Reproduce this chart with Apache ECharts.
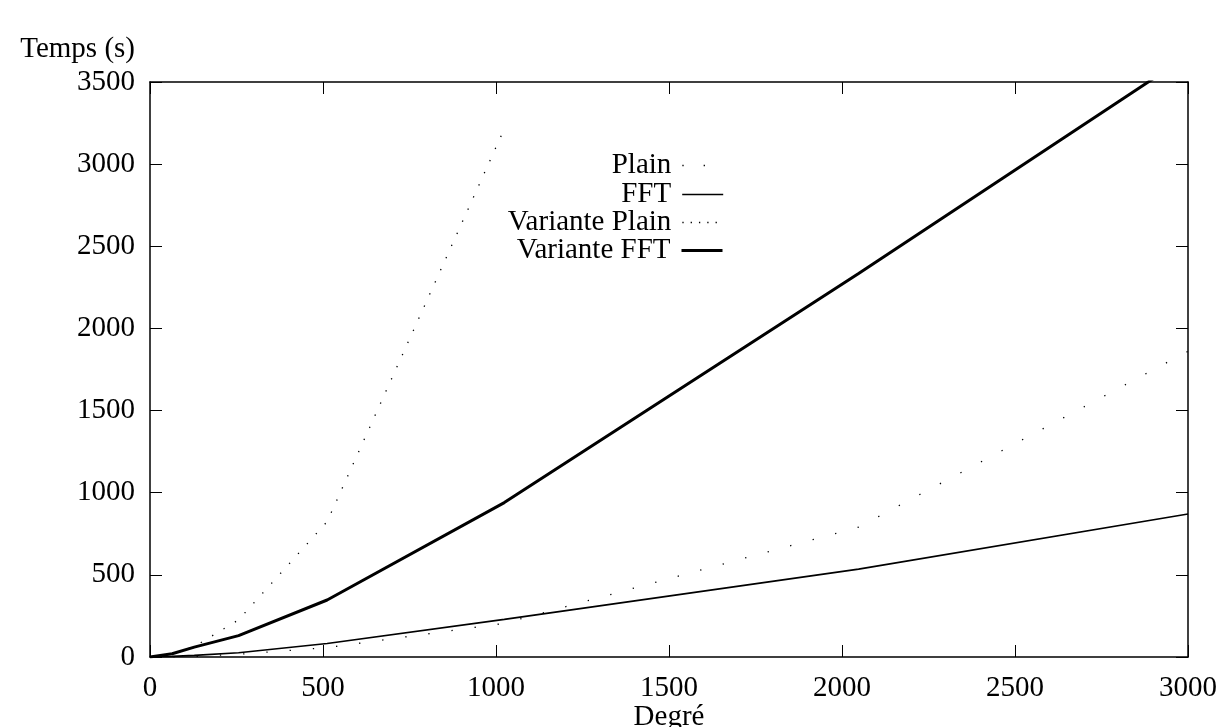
<!DOCTYPE html>
<html>
<head>
<meta charset="utf-8">
<script src="https://cdn.jsdelivr.net/npm/echarts@6/dist/echarts.min.js"></script>
<style>
html,body{margin:0;padding:0;background:#fff;}
#chart{width:1225px;height:727px;}
</style>
</head>
<body>
<div id="chart"></div>
<script>
// Degrees (x) and times in seconds (y)
const degres = [0, 64, 128, 256, 512, 1024, 2048, 3000];
const plainTemps = [0, 1, 3, 17, 57, 205, 790, 1861];
const fftTemps = [0, 4, 10, 26, 82, 229, 535, 870];
const variantePlainTemps = [0, 20, 63, 226, 824, 3215];
const varianteFftTemps = [0, 20, 60, 130, 347, 940, 2335, 3660];

const xTicks = [0, 500, 1000, 1500, 2000, 2500, 3000];
const yTicks = [0, 500, 1000, 1500, 2000, 2500, 3000, 3500];

const seriesNames = ['Plain', 'FFT', 'Variante Plain', 'Variante FFT'];

function pairs(xs, ys) {
  return ys.map((y, i) => [xs[i], y]);
}

const FONT = '"Liberation Serif", "DejaVu Serif", serif';
const FS = 29;
const chart = echarts.init(document.getElementById('chart'), null, {renderer: 'canvas'});

const tickStyle = {inside: true, length: 12, lineStyle: {color: '#000', width: 1}};
const lineAx = {show: true, onZero: false, lineStyle: {color: '#000', width: 1.5}};
const plainNum = v => String(v);

function legendAt(name, top, ls) {
  return {
    data: [name],
    right: 501,
    top: top,
    orient: 'vertical',
    align: 'right',
    itemWidth: 41,
    itemHeight: 14,
    itemGap: 0,
    padding: 0,
    selectedMode: false,
    itemStyle: {opacity: 0},
    lineStyle: ls,
    textStyle: {fontFamily: FONT, fontSize: FS, color: '#000', padding: [0, 6, 0, 0]}
  };
}

const option = {
  animation: false,
  backgroundColor: '#fff',
  grid: {left: 150, right: 37, top: 82, bottom: 70, containLabel: false, outerBoundsMode: 'none'},
  legend: [
    legendAt(seriesNames[0], 151, {color: '#000', width: 1.3, type: [1.3, 20]}),
    legendAt(seriesNames[1], 180, {color: '#000', width: 1.6, type: 'solid'}),
    legendAt(seriesNames[2], 208, {color: '#000', width: 1.3, type: [1.3, 7]}),
    legendAt(seriesNames[3], 236, {color: '#000', width: 3, type: 'solid'})
  ],
  xAxis: [{
    type: 'value', min: xTicks[0], max: xTicks[xTicks.length - 1], interval: xTicks[1] - xTicks[0],
    position: 'bottom',
    name: 'Degré', nameLocation: 'middle', nameGap: 46, nameMoveOverlap: false,
    nameTextStyle: {fontFamily: FONT, fontSize: FS, color: '#000'},
    axisLine: lineAx, axisTick: tickStyle,
    axisLabel: {fontFamily: FONT, fontSize: FS, color: '#000', margin: 17, formatter: plainNum},
    splitLine: {show: false}
  }, {
    type: 'value', min: xTicks[0], max: xTicks[xTicks.length - 1], interval: xTicks[1] - xTicks[0],
    position: 'top',
    axisLine: lineAx, axisTick: tickStyle, axisLabel: {show: false}, splitLine: {show: false}
  }],
  yAxis: [{
    type: 'value', min: yTicks[0], max: yTicks[yTicks.length - 1], interval: yTicks[1] - yTicks[0],
    position: 'left',
    name: 'Temps (s)', nameLocation: 'end', nameGap: 18, nameMoveOverlap: false,
    nameTextStyle: {fontFamily: FONT, fontSize: FS, color: '#000', align: 'right', padding: [0, 15, 0, 0]},
    axisLine: lineAx, axisTick: tickStyle,
    axisLabel: {fontFamily: FONT, fontSize: FS, color: '#000', margin: 15, formatter: plainNum},
    splitLine: {show: false}
  }, {
    type: 'value', min: yTicks[0], max: yTicks[yTicks.length - 1], interval: yTicks[1] - yTicks[0],
    position: 'right',
    axisLine: lineAx, axisTick: tickStyle, axisLabel: {show: false}, splitLine: {show: false}
  }],
  series: [
    {
      name: seriesNames[0], type: 'line', xAxisIndex: 0, yAxisIndex: 0,
      data: pairs(degres, plainTemps), symbol: 'none', clip: true,
      lineStyle: {color: '#000', width: 1.3, type: [1.3, 22]}, color: '#000', z: 3
    },
    {
      name: seriesNames[1], type: 'line', xAxisIndex: 0, yAxisIndex: 0,
      data: pairs(degres, fftTemps), symbol: 'none', clip: true,
      lineStyle: {color: '#000', width: 1.6}, color: '#000', z: 3
    },
    {
      name: seriesNames[2], type: 'line', xAxisIndex: 0, yAxisIndex: 0,
      data: pairs(degres, variantePlainTemps), symbol: 'none', clip: true,
      lineStyle: {color: '#000', width: 1.3, type: [1.3, 12]}, color: '#000', z: 3
    },
    {
      name: seriesNames[3], type: 'line', xAxisIndex: 0, yAxisIndex: 0,
      data: pairs(degres, varianteFftTemps), symbol: 'none', clip: true,
      lineStyle: {color: '#000', width: 3}, color: '#000', z: 3
    }
  ]
};
chart.setOption(option);
</script>
</body>
</html>
